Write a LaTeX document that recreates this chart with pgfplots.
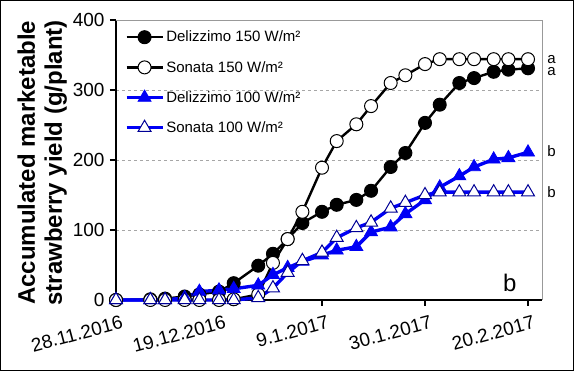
\documentclass[border=0pt]{standalone}
\usepackage{pgfplots}
\pgfplotsset{compat=1.18}
\usepackage{fontspec}
\setmainfont{Liberation Sans}
\definecolor{myblue}{RGB}{0,0,245}
\definecolor{navy}{RGB}{0,0,150}
\begin{document}
\begin{tikzpicture}
\draw[black, line width=0.8pt] (-115.6pt,-70.6pt) rectangle (457.6pt,299.6pt);
\begin{axis}[
  at={(0,0)}, anchor=south west,
  scale only axis, width=426pt, height=280pt,
  xmin=0, xmax=86.85, ymin=0, ymax=400,
  axis lines=left,
  axis line style={-, line width=2.6pt, black},
  clip=false,
  tick align=outside,
  major tick length=6pt,
  tick style={line width=1.6pt, black},
  xtick={0,21,42,63,84},
  xticklabels={28.11.2016,19.12.2016,9.1.2017,30.1.2017,20.2.2017},
  xticklabel style={rotate=15, anchor=north east, inner sep=1pt, yshift=-9pt, xshift=3pt, font=\fontsize{19}{22}\selectfont},
  ytick={0,100,200,300,400},
  yticklabel style={font=\fontsize{19}{22}\selectfont, xshift=-2pt},
  /pgf/number format/assume math mode=true,
  ymajorgrids,
  major grid style={gray!70, dashed, line width=0.6pt},
  ylabel={Accumulated marketable\\strawberry yield (g/plant)},
  ylabel style={at={(rel axis cs:-0.173,0.49)}, anchor=center, rotate=0, align=center, font=\bfseries\fontsize{24}{27}\selectfont},
  legend cell align=left,
  legend style={at={(0.018,0.972)}, anchor=north west, draw=none, fill=none, row sep=13.8pt, font=\fontsize{15}{18}\selectfont, inner sep=1pt},
  legend image code/.code={\draw[mark repeat=2,mark phase=2,#1] plot coordinates {(0pt,0pt) (18pt,0pt) (36pt,0pt)};},
]
\draw[gray!80, line width=0.6pt] (rel axis cs:0,1) -- (rel axis cs:1,1) -- (rel axis cs:1,0);
\addplot[black, line width=2.4pt, mark=*, mark size=6.5pt, mark options={fill=black, line width=1pt, solid}] coordinates {
(0,0) (7,1) (10,2) (14,5) (17,8) (21,12) (24,24) (29,49) (32,66) (35,87) (38,110) (42,126) (45,136) (49,143) (52,156) (56,190) (59,210) (63,253) (66,279) (70,310) (73,317) (77,326) (80,329) (84,331)};
\addlegendentry{Delizzimo 150 W/m²}
\addplot[black, line width=2.4pt, mark=*, mark size=6.5pt, mark options={fill=white, line width=1pt, solid}] coordinates {
(0,0) (7,0) (10,0) (14,0) (17,0) (21,0) (24,1) (29,8) (32,53) (35,87) (38,126) (42,189) (45,227) (49,251) (52,277) (56,310) (59,321) (63,337) (66,344) (70,344) (73,344) (77,344) (80,344) (84,344)};
\addlegendentry{Sonata 150 W/m²}
\addplot[myblue, line width=3.4pt, mark=triangle*, mark size=7.5pt, mark options={fill=myblue, draw=myblue, line width=0.8pt, solid}] coordinates {
(0,0) (7,0) (10,0) (14,3) (17,12) (21,14) (24,16) (29,21) (32,36) (35,46) (38,55) (42,64) (45,71) (49,76) (52,97) (56,104) (59,123) (63,143) (66,161) (70,177) (73,190) (77,201) (80,203) (84,211)};
\addlegendentry{Delizzimo 100 W/m²}
\addplot[myblue, line width=3.4pt, mark=triangle*, mark size=7.5pt, mark options={fill=white, draw=navy, line width=1pt, solid}] coordinates {
(0,0) (7,0) (10,0) (14,0) (17,0) (21,0) (24,0) (29,3) (32,17) (35,39) (38,56) (42,68) (45,89) (49,103) (52,111) (56,131) (59,139) (63,150) (66,154) (70,154) (73,154) (77,154) (80,154) (84,154)};
\addlegendentry{Sonata 100 W/m²}
\node[anchor=west, font=\fontsize{15}{18}\selectfont, inner sep=0pt] at (rel axis cs:1.012,0.86) {a};
\node[anchor=west, font=\fontsize{15}{18}\selectfont, inner sep=0pt] at (rel axis cs:1.012,0.816) {a};
\node[anchor=west, font=\fontsize{15}{18}\selectfont, inner sep=0pt] at (rel axis cs:1.012,0.53) {b};
\node[anchor=west, font=\fontsize{15}{18}\selectfont, inner sep=0pt] at (rel axis cs:1.012,0.384) {b};
\node[font=\fontsize{24}{27}\selectfont] at (axis cs:80.3,24) {b};
\end{axis}
\end{tikzpicture}
\end{document}
